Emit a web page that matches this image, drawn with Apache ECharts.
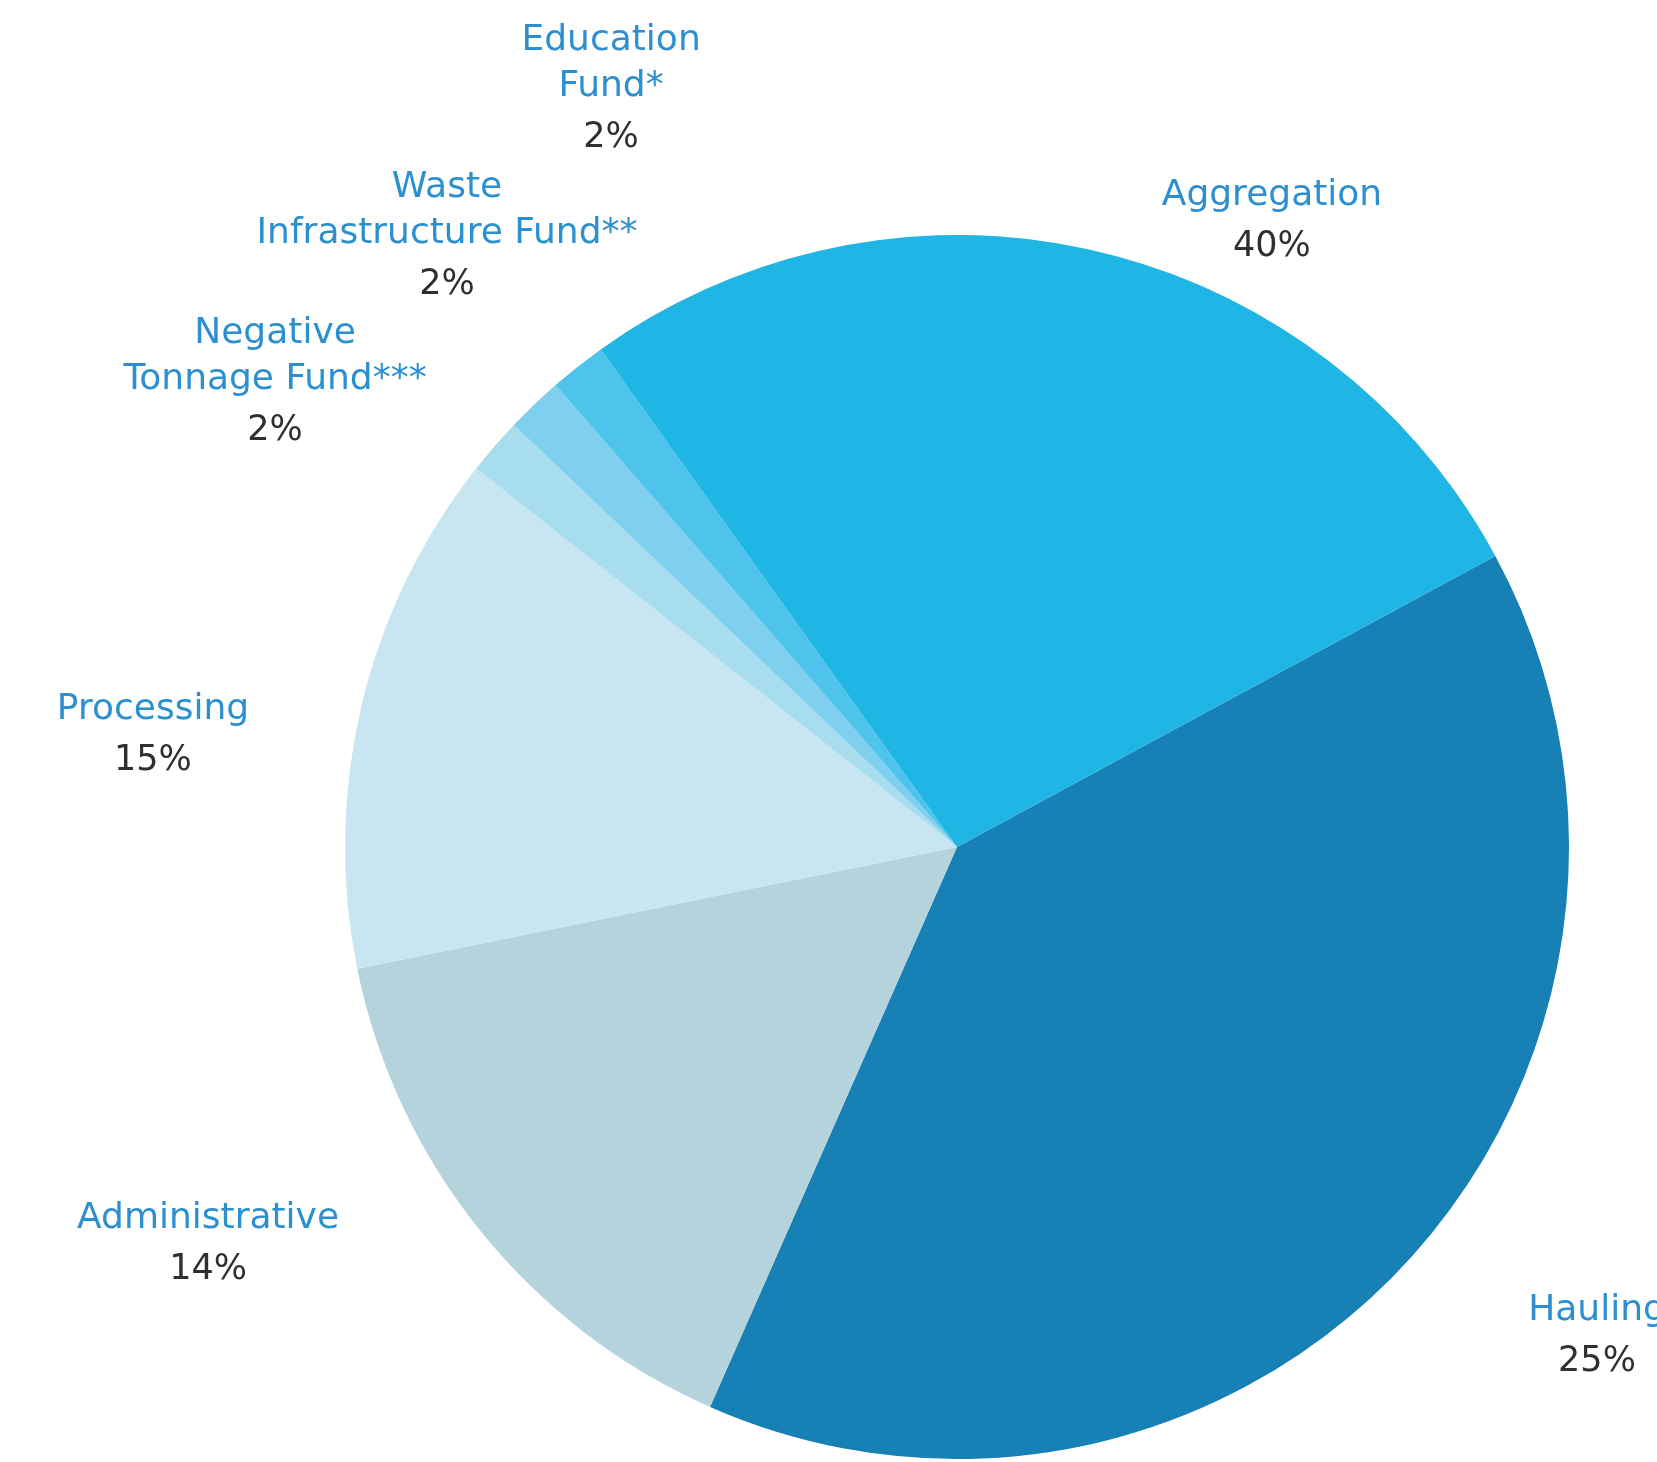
<!DOCTYPE html>
<html>
<head>
<meta charset="utf-8">
<script src="https://cdn.jsdelivr.net/npm/echarts@6/dist/echarts.min.js"></script>
<style>
  html, body { margin: 0; padding: 0; background: #ffffff; }
  #chart { width: 1657px; height: 1462px; }
</style>
</head>
<body>
<div id="chart"></div>
<script>
// ---- data (clockwise from the Hauling / Aggregation boundary) ----
const categories = ['Hauling', 'Administrative', 'Processing', 'Negative Tonnage Fund***', 'Waste Infrastructure Fund**', 'Education Fund*', 'Aggregation'];
const labelNames = ['Hauling', 'Administrative', 'Processing', 'Negative\nTonnage Fund***', 'Waste\nInfrastructure Fund**', 'Education\nFund*', 'Aggregation'];
// slice sizes as drawn in the picture (%)
const sliceShares = [39.5, 15.2, 13.8, 1.5, 1.5, 1.5, 27.0];
// percentages as printed in the labels
const printedPercents = ['25%', '14%', '15%', '2%', '2%', '2%', '40%'];

// ---- layout & style ----
const CENTER = [957, 847];
const RADIUS = 612;
const START_ANGLE = 28.4;
const LABEL_Y_SHIFT = 3;
const sliceColors = ['#1780b4', '#b4d3dd', '#c7e6f2', '#a8dcef', '#7fd0ee', '#4ec3eb', '#1fb5e5'];
// label anchor: [angle clockwise from 12 o'clock (deg), distance / radius]
const labelAnchors = [
  [127.35, 1.3155],
  [242.07, 1.3851],
  [277.93, 1.3265],
  [304.29, 1.3487],
  [320.17, 1.3011],
  [335.47, 1.3614],
  [26.69, 1.1458]
];

const chart = echarts.init(document.getElementById('chart'), null, { renderer: 'canvas' });

const seriesData = categories.map((c, i) => ({
  name: c,
  value: sliceShares[i],
  itemStyle: { color: sliceColors[i] }
}));

chart.setOption({
  backgroundColor: '#ffffff',
  animation: false,
  series: [{
    type: 'pie',
    center: CENTER,
    radius: [0, RADIUS],
    startAngle: START_ANGLE,
    clockwise: true,
    avoidLabelOverlap: false,
    silent: true,
    data: seriesData,
    itemStyle: { borderWidth: 0 },
    labelLine: { show: false },
    label: {
      show: true,
      position: 'outside',
      fontFamily: 'DejaVu Sans',
      formatter: function (p) {
        return '{n|' + labelNames[p.dataIndex] + '}\n{p|' + printedPercents[p.dataIndex] + '}';
      },
      rich: {
        n: { fontFamily: 'DejaVu Sans', fontSize: 36, color: '#2b8fd0', lineHeight: 46, align: 'center' },
        p: { fontFamily: 'DejaVu Sans', fontSize: 35, color: '#2f2f2f', lineHeight: 56, align: 'center' }
      }
    },
    labelLayout: function (params) {
      const a = labelAnchors[params.dataIndex];
      const rad = a[0] * Math.PI / 180;
      return {
        x: CENTER[0] + a[1] * RADIUS * Math.sin(rad),
        y: CENTER[1] - a[1] * RADIUS * Math.cos(rad) + LABEL_Y_SHIFT,
        align: 'center',
        verticalAlign: 'middle'
      };
    }
  }]
});
</script>
</body>
</html>
